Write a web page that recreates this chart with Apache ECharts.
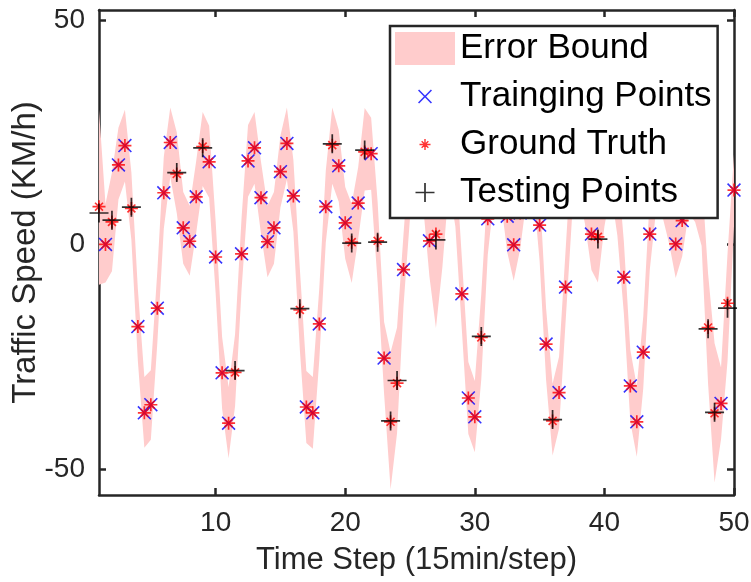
<!DOCTYPE html>
<html><head><meta charset="utf-8">
<script src="https://cdn.jsdelivr.net/npm/echarts@6/dist/echarts.min.js"></script>
<style>html,body{margin:0;padding:0;background:#fff}#c{width:751px;height:582px}</style>
</head><body><div id="c"></div>
<script>
// ---------- data ----------
const timeSteps = [1,1.5,2,2.5,3,3.5,4,4.5,5,5.5,6,6.5,7,7.5,8,8.5,9,9.5,10,10.5,
  11,11.5,12,12.5,13,13.5,14,14.5,15,15.5,16,16.5,17,17.5,18,18.5,19,19.5,20,20.5,
  21,21.5,22,22.5,23,23.5,24,24.5,25,25.5,26,26.5,27,27.5,28,28.5,29,29.5,30,30.5,
  31,31.5,32,32.5,33,33.5,34,34.5,35,35.5,36,36.5,37,37.5,38,38.5,39,39.5,40,40.5,
  41,41.5,42,42.5,43,43.5,44,44.5,45,45.5,46,46.5,47,47.5,48,48.5,49,49.5,50];
const groundTruth = [8.4,0,5.0,17.7,22.0,8.0,-18.3,-37.5,-35.7,-14.2,
  11.5,22.7,15.7,3.7,0.7,10.6,21.8,18.4,-2.8,-28.6,
  -39.8,-28.5,-2.1,18.6,21.5,10.4,0.6,3.7,16.2,22.5,
  10.8,-14.6,-36.2,-37.5,-17.7,8.4,22.1,17.5,4.8,0.5,
  9.2,20.6,20.2,0.8,-25.3,-39.5,-30.9,-5.6,14,22,
  17,0.8,2.3,12.5,21,12,-11.0,-34.2,-38.4,-20.7,
  5.7,19,18,6.3,-0.1,7.0,18.3,20.5,4.3,-22.2,
  -39.3,-33.0,-9.5,14,20,12.6,2.3,1.7,12,20,
  10,-7.3,-31.5,-39.5,-24.0,2.3,16,14,8.1,0.1,
  5.3,15,13,7.7,-18.5,-37.6,-35.4,-13.1,12.1];
const bandLow = [-9,-8.5,-6,10,14,1,-26,-45.3,-43.5,-22,
  3.5,15,7,-4.3,-7,2.6,13,10.4,-10.8,-36.6,
  -47.6,-36,-10.1,10.6,13.5,2.4,-7.3,-4.3,8.2,14.5,
  2.8,-23.5,-44.2,-45.5,-25.7,0.4,13.5,9.5,-3.2,-8.6,
  1.2,12,12.2,-8.5,-33.3,-54.5,-42,-13.6,6,14,
  9,-7.2,-18.6,-5,13,4,-19,-42.2,-46.3,-30,
  -2.3,11,10,-1.7,-8.1,-1,10.3,12.5,-3.7,-30.2,
  -47,-41,-17.5,6,12,4.6,-5.7,-8.5,4,12,
  2,-15.3,-39.5,-47.3,-32,-5.7,8,6,0.1,-7.5,
  -2.7,7,5,-0.3,-31,-53,-43.4,-26,4.1];
const bandHigh = [30,9,16,26,30,16,-10,-29.5,-28,-6,
  19.5,30.5,25,11.7,8.6,18.6,29.5,26.4,5.2,-20.6,
  -31.8,-20,5.9,26.6,29.5,18.4,8.6,11.7,24.2,30.5,
  18.8,-5.5,-28.2,-29.5,-9.7,16.4,30.5,25.5,12.8,9,
  17.2,30.4,28.2,9.5,-17.3,-24,-18.5,2.4,22,30,
  25,8.8,20,28,29,20,-3,-26.2,-30.4,-11,
  13.7,27,26,14.3,7.9,15,26.3,28.5,12.3,-14.2,
  -31,-25,-1.5,22,28,20.6,10.3,11,20,28,
  18,0.7,-23.5,-31.5,-16,10.3,24,22,16.1,8.1,
  13.3,23,21,15.7,-6.5,-22,-27.4,-2,20.1];
const testSteps = [1,2,3.5,7,9,11.5,16.5,19,20.5,21.5,22.5,23.5,24,27,30.5,36,39.5,48,48.5,49.5];
const testPred  = [7.0,5.4,8.3,16.0,21.5,-28.1,-14.3,22.4,0.3,21.0,0.5,-39.3,-30.3,1.0,-20.5,-39.0,1.2,-18.8,-37.4,-14.2];
const xTicks = [10,20,30,40,50];
const yTicks = [-50,0,50];
const legendNames = ['Error Bound','Trainging Points','Ground Truth','Testing Points'];

// ---------- marker shapes ----------
function poly(pts, k, ox, oy){
  return 'M' + pts.map(p => (ox + p[0]*k).toFixed(2) + ',' + (oy + p[1]*k).toFixed(2)).join('L') + 'Z';
}
function xPts(d, a, b){ // X inside box [a,b]
  const m=(a+b)/2;
  return [[a+d,a],[m,m-d],[b-d,a],[b,a+d],[m+d,m],[b,b-d],[b-d,b],[m,m+d],[a+d,b],[a,b-d],[m-d,m],[a,a+d]];
}
function plusPts(h){
  return [[5-h,0],[5+h,0],[5+h,5-h],[10,5-h],[10,5+h],[5+h,5+h],[5+h,10],[5-h,10],[5-h,5+h],[0,5+h],[0,5-h],[5-h,5-h]];
}
const shapeX = [xPts(0.8,0,10)];
const shapeStar = [plusPts(0.65), xPts(0.9,1.5,8.5)];
const shapePlus = [plusPts(0.45)];
function symbolPath(shapes){ return 'path://' + shapes.map(s => poly(s,1,0,0)).join(''); }
function legendPath(shapes, size){
  const k = size/10, ox = 30 - size/2, oy = 16.5 - size/2;
  return 'path://M0,0M60,33' + shapes.map(s => poly(s,k,ox,oy)).join('');
}

const testSet = new Set(testSteps);
const trainData = [], truthData = [];
timeSteps.forEach((t,i) => {
  truthData.push([t, groundTruth[i]]);
  if (!testSet.has(t)) trainData.push([t, groundTruth[i]]);
});
const testData = testSteps.map((t,i) => [t, testPred[i]]);
const bandData = timeSteps.map((t,i) => [t, bandLow[i], bandHigh[i]]);

const FONT = "'Liberation Sans', Arial, Helvetica, sans-serif";
const AX = '#262626';

function axisCommon(pos, showLabel, ticks){
  return {
    axisLine:{show:true, onZero:false, lineStyle:{color:AX, width:2.5}},
    axisTick:{show:true, inside:true, length:7, customValues:ticks, lineStyle:{color:AX, width:2.5}},
    axisLabel:{show:showLabel, customValues:ticks, color:AX, fontSize:28, fontFamily:FONT, margin:14},
    splitLine:{show:false},
    position:pos
  };
}

const chart = echarts.init(document.getElementById('c'), null, {renderer:'canvas'});
chart.setOption({
  animation:false,
  backgroundColor:'#fff',
  grid:{left:99, right:17, top:10, bottom:87, containLabel:false, outerBoundsMode:'none'},
  xAxis:[
    Object.assign({type:'value', min:1, max:50,
      name:'Time Step (15min/step)', nameLocation:'middle', nameGap:50, nameMoveOverlap:false,
      nameTextStyle:{fontSize:31, color:AX, fontFamily:FONT}}, axisCommon('bottom', true, xTicks)),
    Object.assign({type:'value', min:1, max:50}, axisCommon('top', false, xTicks))
  ],
  yAxis:[
    Object.assign({type:'value', min:-55.8, max:52.2,
      name:'Traffic Speed (KM/h)', nameLocation:'middle', nameGap:57, nameMoveOverlap:false,
      nameTextStyle:{fontSize:33, color:AX, fontFamily:FONT}}, axisCommon('left', true, yTicks)),
    Object.assign({type:'value', min:-55.8, max:52.2}, axisCommon('right', false, yTicks))
  ],
  legend:{
    orient:'vertical', left:390, top:26,
    itemWidth:60, itemHeight:33, itemGap:13,
    padding:[5,6,8,5],
    backgroundColor:'#fff', borderColor:AX, borderWidth:2.5, borderRadius:0,
    selectedMode:false,
    textStyle:{fontSize:35, color:'#000', fontFamily:FONT, lineHeight:33},
    data:[
      {name:legendNames[0], icon:'rect'},
      {name:legendNames[1], icon:legendPath(shapeX,14)},
      {name:legendNames[2], icon:legendPath(shapeStar,11)},
      {name:legendNames[3], icon:legendPath(shapePlus,19)}
    ]
  },
  series:[
    {
      name:legendNames[0], type:'custom', xAxisIndex:0, yAxisIndex:0,
      itemStyle:{color:'#ffcccc'}, clip:true, z:1,
      encode:{x:0, y:[1,2]},
      data:bandData,
      renderItem:function(params, api){
        if (params.dataIndex !== 0) return null;
        const top = bandData.map(d => api.coord([d[0], d[2]]));
        const bot = bandData.map(d => api.coord([d[0], d[1]])).reverse();
        return {type:'polygon', silent:true, shape:{points: top.concat(bot)}, style:{fill:'#ffcccc'}};
      }
    },
    {
      name:legendNames[1], type:'scatter', xAxisIndex:0, yAxisIndex:0, z:2,
      symbol:symbolPath(shapeX), symbolSize:14, data:trainData,
      itemStyle:{color:'#0000ff'}
    },
    {
      name:legendNames[2], type:'scatter', xAxisIndex:0, yAxisIndex:0, z:3,
      symbol:symbolPath(shapeStar), symbolSize:13, data:truthData,
      itemStyle:{color:'#ff0000'}
    },
    {
      name:legendNames[3], type:'scatter', xAxisIndex:0, yAxisIndex:0, z:4,
      symbol:symbolPath(shapePlus), symbolSize:19, data:testData,
      itemStyle:{color:'#000000'}
    }
  ]
});
</script>
</body></html>
